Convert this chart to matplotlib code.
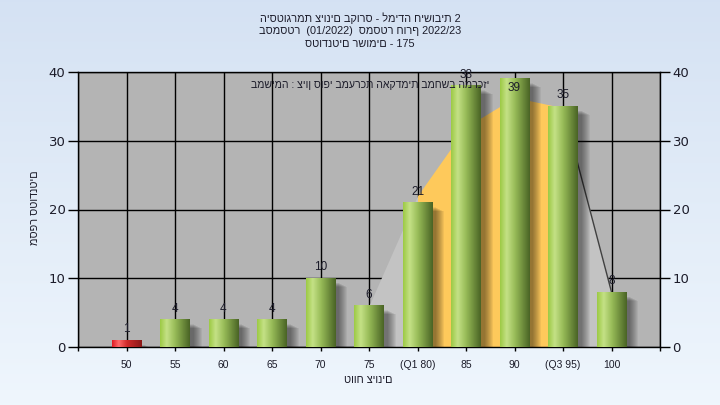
import numpy as np
import matplotlib
matplotlib.use('Agg')
import matplotlib.pyplot as plt
from matplotlib.colors import LinearSegmentedColormap
from matplotlib.patches import Rectangle

# ---------------- data ----------------
categories = ['50', '55', '60', '65', '70', '75', '(Q1 80)', '85', '90', '(Q3 95)', '100']
counts = [1, 4, 4, 4, 10, 6, 21, 38, 39, 35, 8]
curve_idx = [5, 6, 7, 8, 9, 10]
curve_vals = [6, 22, 32, 36.3, 34.8, 8]
q1_pos = 6
q3_pos = 9

title_lines = ['היסטוגרמת ציונים בקורס - למידה חישובית 2',
               'בסמסטר  (01/2022)  סמסטר חורף 2022/23',
               'סטודנטים רשומים - 175']
inner_text = 'במשימה : ציון סופי במערכת האקדמית במחשב המרכזי'
xlabel = 'טווח ציונים'
ylabel = 'מספר סטודנטים'

FAM = ['Liberation Sans', 'DejaVu Sans']
TXT = '#1c1c2a'

W, H = 720, 405
fig = plt.figure(figsize=(W / 100, H / 100), dpi=100)

# background gradient
bg = fig.add_axes([0, 0, 1, 1], zorder=-10)
top = np.array([0.835, 0.886, 0.953])
bot = np.array([0.937, 0.965, 0.992])
t = np.linspace(0, 1, 256)[:, None]
grad = top[None, None, :] * (1 - t[..., None]) + bot[None, None, :] * t[..., None]
grad = np.repeat(grad, 2, axis=1)
bg.imshow(grad, aspect='auto', extent=(0, 1, 0, 1))
bg.set_axis_off()

ax = fig.add_axes([78 / W, 58 / H, 582 / W, 275 / H])
ax.set_facecolor('#b4b4b4')
ax.set_axisbelow(True)

# grid / ticks
ax.set_yticks(range(0, 41, 10))
ax.set_xticks(range(-1, 12))
ax.set_xticklabels([''] + categories + [''], fontsize=7.5, color=TXT, family=FAM)
ax.grid(True, color='black', lw=1, zorder=0.5)
ax.tick_params(axis='x', length=3, width=1, color='black', pad=6)
ax.tick_params(axis='y', length=7, width=1, color='black', labelsize=9.5,
               labelcolor=TXT, left=True, right=True, labelleft=True, labelright=True, pad=2)
for sp in ax.spines.values():
    sp.set_color('black')
    sp.set_linewidth(1)

# area (distribution curve)
cx = np.array(curve_idx, dtype=float)
cy = np.array(curve_vals, dtype=float)
light = '#c3c3c3'
yellow = '#fec95b'
i1 = curve_idx.index(q1_pos)
i3 = curve_idx.index(q3_pos)
ax.fill_between(cx[:i1 + 1], cy[:i1 + 1], 0, color=light, lw=0, zorder=1)
ax.fill_between(cx[i1:i3 + 1], cy[i1:i3 + 1], 0, color=yellow, lw=0, zorder=1)
ax.fill_between(cx[i3:], cy[i3:], 0, color=light, lw=0, zorder=1)
ax.plot(cx[i3:], cy[i3:], color='#404040', lw=1, zorder=1.2)

# bars
green = LinearSegmentedColormap.from_list('g', [(0, '#9dca45'), (0.22, '#c4e186'),
                                                (0.5, '#98bc58'), (1, '#4a6425')])
red = LinearSegmentedColormap.from_list('r', [(0, '#e01c24'), (0.22, '#ff6a6a'),
                                              (0.5, '#d02a2a'), (1, '#8a1818')])
bw = 0.6
pxx = 12 / 582  # data units per px in x
pxy = 40 / 275
gx = np.linspace(0, 1, 64)[None, :]
for i, v in enumerate(counts):
    cm = red if i == 0 else green
    # soft shadow
    for k in range(1, 10):
        ax.add_patch(Rectangle((i - bw / 2 + 3 * pxx, -3 * pxy), bw + k * pxx,
                               v - (1 + 0.5 * k) * pxy, color='black', alpha=0.055,
                               lw=0, zorder=2))
    ax.imshow(cm(gx), aspect='auto', extent=(i - bw / 2, i + bw / 2, 0, v),
              zorder=3, interpolation='bilinear')
    ly = v + 1.6 if v + 1.6 <= 40 else v - 1.3
    ax.text(i, ly, str(v), ha='center', va='center', fontsize=8.5, color=TXT,
            family=FAM, zorder=5)

ax.set_xlim(-1, 11)
ax.set_ylim(0, 40)

# texts
for k, line in enumerate(title_lines):
    fig.text(0.5, 1 - (18 + 13 * k) / H, line, ha='center', va='center',
             fontsize=7.8, color=TXT, family=FAM)
fig.text(370 / W, 1 - 85 / H, inner_text, ha='center', va='center',
         fontsize=7.6, color=TXT, family=FAM, zorder=10)
fig.text(368 / W, 1 - 380 / H, xlabel, ha='center', va='center',
         fontsize=7.8, color=TXT, family=FAM)
fig.text(35 / W, 1 - 208 / H, ylabel, ha='center', va='center', rotation=90,
         fontsize=7.8, color=TXT, family=FAM)

fig.savefig('out.png', dpi=100)
